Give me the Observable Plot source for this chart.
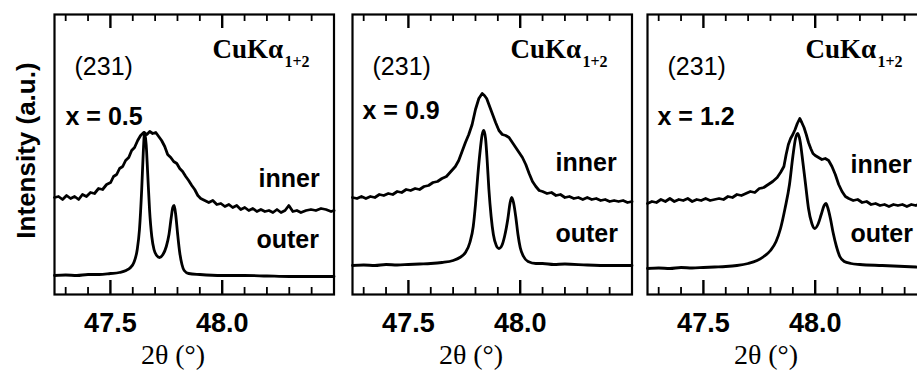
<!DOCTYPE html>
<html><head><meta charset="utf-8">
<script src="https://cdn.jsdelivr.net/npm/d3@7"></script>
<script src="https://cdn.jsdelivr.net/npm/@observablehq/plot@0.6"></script>
<style>
body{margin:0;background:#fff;}
#fig{position:relative;width:917px;height:374px;overflow:hidden;background:#fff;}
#fig svg{position:absolute;top:0;max-width:none;overflow:visible;background:transparent;}
</style></head><body><div id="fig"></div>
<script>
// ---- data ----
const compositions = ["x = 0.5", "x = 0.9", "x = 1.2"];
const reflection = "(231)";
const radiation = "CuKα";
const radiationSub = "1+2";
const seriesNames = ["inner", "outer"];
const xTicksMajor = [47.5, 48.0];
const xTicksMinor = [47.3, 47.4, 47.6, 47.7, 47.8, 47.9, 48.1, 48.2, 48.3, 48.4];
const xLabel = "2θ (°)";
const yLabel = "Intensity (a.u.)";

// [2θ, intensity (a.u., offset included)]
const inner05 = [[47.250,97],[47.268,98],[47.286,95],[47.304,99],[47.322,96],[47.340,98],[47.358,95],[47.375,100],[47.393,98],[47.411,102],[47.429,101],[47.447,106],[47.465,105],[47.483,110],[47.501,112],[47.514,118],[47.528,120],[47.541,126],[47.555,128],[47.568,134],[47.582,137],[47.595,144],[47.608,147],[47.622,154],[47.635,159],[47.649,162],[47.663,160],[47.676,163],[47.689,161],[47.703,162],[47.716,158],[47.729,154],[47.743,148],[47.756,140],[47.770,137],[47.783,133],[47.797,131],[47.810,126],[47.823,123],[47.837,118],[47.850,114],[47.864,109],[47.877,105],[47.891,99],[47.904,96],[47.922,94],[47.940,92],[47.958,94],[47.976,90],[47.994,91],[48.012,88],[48.030,90],[48.047,87],[48.065,89],[48.083,85],[48.101,87],[48.119,84],[48.137,86],[48.155,83],[48.173,85],[48.191,83],[48.209,84],[48.227,82],[48.245,85],[48.263,82],[48.281,84],[48.298,89],[48.316,83],[48.334,84],[48.352,82],[48.375,84],[48.397,85],[48.419,84],[48.442,86],[48.464,85],[48.487,83],[48.500,84]];
const outer05 = [[47.25,19],[47.30,19.5],[47.35,19],[47.40,20],[47.45,20],[47.50,21],[47.54,22],[47.57,24],[47.59,27],[47.605,32],[47.62,45],[47.63,65],[47.64,105],[47.647,142],[47.653,162],[47.66,150],[47.667,120],[47.675,85],[47.685,58],[47.695,45],[47.707,39],[47.72,37],[47.735,40],[47.75,48],[47.762,60],[47.772,77],[47.779,87],[47.785,89],[47.792,80],[47.80,62],[47.81,42],[47.82,30],[47.83,24],[47.85,21],[47.90,20],[48.0,19],[48.1,19],[48.2,18.5],[48.3,18],[48.4,18],[48.5,18]];

const inner09 = [[47.25,97],[47.27,96],[47.29,98],[47.31,96],[47.33,98],[47.35,97],[47.37,100],[47.39,99],[47.41,101],[47.43,100],[47.45,103],[47.47,102],[47.49,105],[47.51,104],[47.53,106],[47.55,105],[47.57,108],[47.59,109],[47.61,112],[47.63,113],[47.65,116],[47.67,118],[47.69,123],[47.71,128],[47.725,134],[47.74,143],[47.755,152],[47.77,160],[47.785,170],[47.80,185],[47.815,196],[47.83,201],[47.84,199],[47.85,196],[47.86,190],[47.875,181],[47.89,172],[47.905,164],[47.92,160],[47.935,159],[47.95,157],[47.965,152],[47.98,147],[47.995,142],[48.01,137],[48.025,130],[48.04,121],[48.055,113],[48.07,108],[48.085,104],[48.10,103],[48.12,101],[48.14,102],[48.16,99],[48.18,100],[48.20,97],[48.22,98],[48.24,96],[48.26,97],[48.28,95],[48.30,97],[48.32,95],[48.34,96],[48.36,94],[48.38,95],[48.40,93],[48.42,94],[48.44,93],[48.46,94],[48.48,92],[48.50,93]];
const outer09 = [[47.25,29],[47.30,29.5],[47.35,29],[47.40,30],[47.45,29.5],[47.50,30],[47.55,30.5],[47.60,31],[47.65,32],[47.70,34],[47.73,37],[47.755,42],[47.775,52],[47.79,68],[47.80,90],[47.81,118],[47.82,142],[47.83,160],[47.837,164],[47.845,156],[47.852,135],[47.86,105],[47.87,78],[47.88,60],[47.893,49],[47.905,46],[47.918,49],[47.93,58],[47.945,76],[47.955,92],[47.962,97],[47.97,92],[47.98,78],[47.99,60],[48.00,47],[48.015,38],[48.035,33],[48.07,31],[48.10,31],[48.15,30],[48.20,30.5],[48.30,29.5],[48.40,29],[48.50,29]];

const inner12 = [[47.25,91],[47.27,93],[47.29,92],[47.31,95],[47.33,93],[47.35,96],[47.37,93],[47.39,95],[47.41,94],[47.43,96],[47.45,93],[47.47,95],[47.49,94],[47.51,96],[47.53,94],[47.55,95],[47.57,96],[47.59,95],[47.61,98],[47.63,97],[47.65,100],[47.67,99],[47.69,101],[47.71,103],[47.73,102],[47.75,106],[47.77,107],[47.79,110],[47.81,113],[47.83,117],[47.845,122],[47.86,128],[47.87,140],[47.88,150],[47.89,156],[47.90,160],[47.91,165],[47.92,171],[47.931,176],[47.94,172],[47.95,167],[47.96,160],[47.97,152],[47.98,146],[47.99,141],[48.00,139],[48.015,137],[48.03,135],[48.045,136],[48.06,134],[48.075,128],[48.09,120],[48.105,110],[48.12,103],[48.135,98],[48.15,96],[48.17,94],[48.19,95],[48.21,92],[48.23,93],[48.25,90],[48.27,91],[48.29,89],[48.31,90],[48.33,88],[48.35,90],[48.37,89],[48.39,90],[48.41,88],[48.43,90],[48.45,89],[48.47,91],[48.50,90]];
const outer12 = [[47.25,26],[47.30,26.5],[47.35,26],[47.40,27],[47.45,26.5],[47.50,27],[47.55,27.5],[47.60,28],[47.65,29],[47.70,31],[47.74,34],[47.77,38],[47.80,44],[47.825,53],[47.845,66],[47.865,86],[47.885,110],[47.90,138],[47.912,156],[47.922,161],[47.932,154],[47.945,132],[47.958,108],[47.97,86],[47.985,71],[47.998,66],[48.012,70],[48.027,80],[48.04,89],[48.048,91],[48.056,87],[48.068,76],[48.08,62],[48.095,48],[48.11,38],[48.13,33],[48.16,31],[48.20,30],[48.30,29],[48.40,28],[48.50,27]];

const innerSeries = [inner05, inner09, inner12];
const outerSeries = [outer05, outer09, outer12];

(function () {
// ---- layout (styles / positions) ----
const panelLeft = [54, 352, 647];
const panelW = 279.5, mTop = 14, mBottom = 80, H = 374;
// [dx from panel left, text baseline in page px]
const textPos = [
  {comp: [11, 124], inner: [204, 186], outer: [202, 247]},
  {comp: [10, 118], inner: [203, 170], outer: [203, 241]},
  {comp: [10, 124], inner: [203, 172], outer: [203, 241]}
];
const sans = "'Liberation Sans', Arial, Helvetica, sans-serif";
const serif = "'Liberation Serif', 'Times New Roman', serif";
const fig = document.getElementById("fig");

compositions.forEach((comp, i) => {
  const ml = i === 0 ? 54 : 12, mr = 4;
  const tp = textPos[i];
  const lbl = (t, [dx, by], o = {}) => Plot.text([t], {
    text: d => d, frameAnchor: "top-left", textAnchor: "start", lineAnchor: "bottom",
    dx, dy: by - mTop, fontSize: 25, fontWeight: "bold", fill: "#000", ...o
  });
  const marks = [
    Plot.line(innerSeries[i], {x: d => d[0], y: d => d[1], stroke: "#000", strokeWidth: 2.8, strokeLinejoin: "round"}),
    Plot.line(outerSeries[i], {x: d => d[0], y: d => d[1], stroke: "#000", strokeWidth: 2.8, curve: "monotone-x"}),
    Plot.tickX(xTicksMinor, {x: d => d, insetTop: 280 - 7, stroke: "#000", strokeWidth: 1.8}),
    Plot.tickX(xTicksMinor, {x: d => d, insetBottom: 280 - 7, stroke: "#000", strokeWidth: 1.8}),
    Plot.tickX(xTicksMajor, {x: d => d, insetTop: 280 - 14, stroke: "#000", strokeWidth: 2.4}),
    Plot.tickX(xTicksMajor, {x: d => d, insetBottom: 280 - 14, stroke: "#000", strokeWidth: 2.4}),
    Plot.frame({stroke: "#000", strokeWidth: 2.2}),
    Plot.axisX(xTicksMajor, {anchor: "bottom", tickSize: 0, tickPadding: 18, tickFormat: d3.format(".1f"), fontSize: 27, fontWeight: "bold", label: null}),
    Plot.text([xLabel], {text: d => d, x: () => 47.78, frameAnchor: "bottom", dy: 61, lineAnchor: "middle", fontSize: 28, fontFamily: serif, fill: "#000"}),
    lbl(reflection, [20, 74], {fontWeight: "normal"}),
    lbl(comp, tp.comp),
    lbl(seriesNames[0], tp.inner),
    lbl(seriesNames[1], tp.outer),
    lbl(radiation, [158, 57], {fontFamily: serif, fontSize: 27}),
    lbl(radiationSub, [230, 66], {fontFamily: serif, fontSize: 16})
  ];
  if (i === 0) marks.push(Plot.text([yLabel], {text: d => d, frameAnchor: "left", textAnchor: "middle", lineAnchor: "middle", dx: -28, dy: -4, rotate: -90, fontSize: 26, fontWeight: "bold", fill: "#000"}));
  const svg = Plot.plot({
    width: ml + panelW + mr, height: H,
    marginLeft: ml, marginRight: mr, marginTop: mTop, marginBottom: mBottom,
    x: {domain: [47.25, 48.5], axis: null},
    y: {domain: [0, 280], axis: null},
    style: {fontFamily: sans, color: "#000", background: "transparent", overflow: "visible"},
    marks
  });
  svg.style.left = (panelLeft[i] - ml) + "px";
  fig.appendChild(svg);
});
})();
</script></body></html>
